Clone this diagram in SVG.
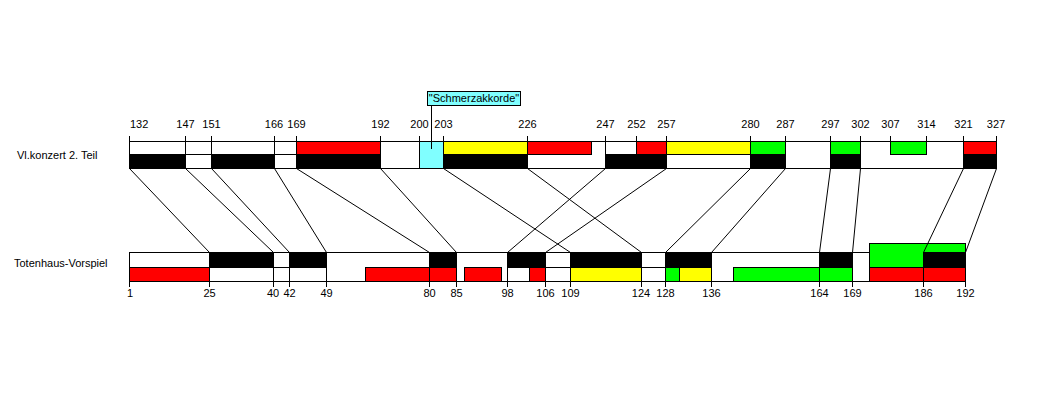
<svg xmlns="http://www.w3.org/2000/svg" width="1040" height="393" viewBox="0 0 1040 393">
<style>
text{font-family:"Liberation Sans",Arial,sans-serif;font-size:11px;fill:#000}
.n{text-anchor:middle}
.b{stroke:#000;stroke-width:1;shape-rendering:crispEdges}
.w{fill:#fff}.k{fill:#000}.r{fill:#ff0000}.y{fill:#ffff00}.g{fill:#00ff00}.c{fill:#80ffff}
line{stroke:#000;stroke-width:1;shape-rendering:crispEdges}
.con line{shape-rendering:auto}
</style>
<rect width="1040" height="393" fill="#fff"/>
<g id="vlkonzert">
<text x="17" y="159">Vl.konzert 2. Teil</text>
<line x1="129" y1="141.5" x2="996.5" y2="141.5"/>
<line x1="129" y1="168.5" x2="996.5" y2="168.5"/>
<g class="b">
<rect class="w" x="129.5" y="141.5" width="167" height="13"/>
<rect class="r" x="296.5" y="141.5" width="84" height="13"/>
<rect class="y" x="443.5" y="141.5" width="84" height="13"/>
<rect class="r" x="527.5" y="141.5" width="64" height="13"/>
<rect class="w" x="605.5" y="141.5" width="31" height="13"/>
<rect class="r" x="636.5" y="141.5" width="30" height="13"/>
<rect class="y" x="666.5" y="141.5" width="84" height="13"/>
<rect class="g" x="750.5" y="141.5" width="35" height="13"/>
<rect class="g" x="830.5" y="141.5" width="30" height="13"/>
<rect class="g" x="890.5" y="141.5" width="36" height="13"/>
<rect class="r" x="963.5" y="141.5" width="33" height="13"/>
<rect class="k" x="129.5" y="154.5" width="56" height="14"/>
<rect class="w" x="185.5" y="154.5" width="26" height="14"/>
<rect class="k" x="211.5" y="154.5" width="63" height="14"/>
<rect class="w" x="274.5" y="154.5" width="22" height="14"/>
<rect class="k" x="296.5" y="154.5" width="84" height="14"/>
<rect class="k" x="443.5" y="154.5" width="84" height="14"/>
<rect class="k" x="605.5" y="154.5" width="61" height="14"/>
<rect class="w" x="666.5" y="154.5" width="84" height="14"/>
<rect class="k" x="750.5" y="154.5" width="35" height="14"/>
<rect class="k" x="830.5" y="154.5" width="30" height="14"/>
<rect class="k" x="963.5" y="154.5" width="33" height="14"/>
<rect class="c" x="419.5" y="141.5" width="24" height="27"/>
</g>
<g>
<line x1="129.5" y1="136" x2="129.5" y2="169"/>
<line x1="185.5" y1="136" x2="185.5" y2="169"/>
<line x1="211.5" y1="136" x2="211.5" y2="169"/>
<line x1="274.5" y1="136" x2="274.5" y2="169"/>
<line x1="296.5" y1="136" x2="296.5" y2="169"/>
<line x1="380.5" y1="136" x2="380.5" y2="169"/>
<line x1="419.5" y1="136" x2="419.5" y2="169"/>
<line x1="443.5" y1="136" x2="443.5" y2="169"/>
<line x1="527.5" y1="136" x2="527.5" y2="169"/>
<line x1="605.5" y1="136" x2="605.5" y2="169"/>
<line x1="636.5" y1="136" x2="636.5" y2="155"/>
<line x1="666.5" y1="136" x2="666.5" y2="169"/>
<line x1="750.5" y1="136" x2="750.5" y2="169"/>
<line x1="785.5" y1="136" x2="785.5" y2="169"/>
<line x1="830.5" y1="136" x2="830.5" y2="169"/>
<line x1="860.5" y1="136" x2="860.5" y2="169"/>
<line x1="890.5" y1="136" x2="890.5" y2="155"/>
<line x1="926.5" y1="136" x2="926.5" y2="155"/>
<line x1="963.5" y1="136" x2="963.5" y2="169"/>
<line x1="996.5" y1="136" x2="996.5" y2="169"/>
</g>
<text x="130" y="128">132</text>
<text class="n" x="185.5" y="128">147</text>
<text class="n" x="211.5" y="128">151</text>
<text class="n" x="274" y="128">166</text>
<text class="n" x="296.5" y="128">169</text>
<text class="n" x="380.5" y="128">192</text>
<text class="n" x="419.5" y="128">200</text>
<text class="n" x="443.5" y="128">203</text>
<text class="n" x="527.5" y="128">226</text>
<text class="n" x="605.5" y="128">247</text>
<text class="n" x="636.5" y="128">252</text>
<text class="n" x="666.5" y="128">257</text>
<text class="n" x="750.5" y="128">280</text>
<text class="n" x="785.5" y="128">287</text>
<text class="n" x="830.5" y="128">297</text>
<text class="n" x="860.5" y="128">302</text>
<text class="n" x="890.5" y="128">307</text>
<text class="n" x="926.5" y="128">314</text>
<text class="n" x="963.5" y="128">321</text>
<text class="n" x="996" y="128">327</text>
</g>
<g id="schmerzakkorde">
<rect class="b c" x="427.5" y="91.5" width="93" height="14"/>
<text class="n" x="474" y="102">"Schmerzakkorde"</text>
<line x1="431.5" y1="106" x2="431.5" y2="149"/>
</g>
<g id="totenhaus">
<text x="14" y="267">Totenhaus-Vorspiel</text>
<line x1="129" y1="252.5" x2="869.5" y2="252.5"/>
<line x1="129" y1="281.5" x2="965.5" y2="281.5"/>
<g class="b">
<rect class="k" x="209.5" y="252.5" width="64" height="15"/>
<rect class="w" x="273.5" y="252.5" width="16" height="15"/>
<rect class="k" x="289.5" y="252.5" width="37" height="15"/>
<rect class="k" x="429.5" y="252.5" width="27" height="15"/>
<rect class="k" x="507.5" y="252.5" width="38" height="15"/>
<rect class="w" x="545.5" y="252.5" width="25" height="15"/>
<rect class="k" x="570.5" y="252.5" width="71" height="15"/>
<rect class="w" x="641.5" y="252.5" width="24" height="15"/>
<rect class="k" x="665.5" y="252.5" width="46" height="15"/>
<rect class="k" x="819.5" y="252.5" width="33" height="15"/>
<rect class="g" x="869.5" y="243.5" width="96" height="24"/>
<rect class="k" x="923.5" y="252.5" width="42" height="15"/>
<rect class="r" x="129.5" y="267.5" width="80" height="14"/>
<rect class="w" x="209.5" y="267.5" width="117" height="14"/>
<rect class="r" x="365.5" y="267.5" width="64" height="14"/>
<rect class="r" x="429.5" y="267.5" width="27" height="14"/>
<rect class="r" x="464.5" y="267.5" width="37" height="14"/>
<rect class="w" x="507.5" y="267.5" width="22" height="14"/>
<rect class="r" x="529.5" y="267.5" width="16" height="14"/>
<rect class="w" x="545.5" y="267.5" width="25" height="14"/>
<rect class="y" x="570.5" y="267.5" width="71" height="14"/>
<rect class="w" x="641.5" y="267.5" width="24" height="14"/>
<rect class="g" x="665.5" y="267.5" width="14" height="14"/>
<rect class="y" x="679.5" y="267.5" width="32" height="14"/>
<rect class="g" x="733.5" y="267.5" width="119" height="14"/>
<rect class="r" x="869.5" y="267.5" width="96" height="14"/>
</g>
<g>
<line x1="129.5" y1="252" x2="129.5" y2="287"/>
<line x1="209.5" y1="252" x2="209.5" y2="287"/>
<line x1="273.5" y1="252" x2="273.5" y2="287"/>
<line x1="289.5" y1="252" x2="289.5" y2="287"/>
<line x1="326.5" y1="252" x2="326.5" y2="287"/>
<line x1="429.5" y1="252" x2="429.5" y2="287"/>
<line x1="456.5" y1="252" x2="456.5" y2="287"/>
<line x1="507.5" y1="252" x2="507.5" y2="287"/>
<line x1="545.5" y1="252" x2="545.5" y2="287"/>
<line x1="570.5" y1="252" x2="570.5" y2="287"/>
<line x1="641.5" y1="252" x2="641.5" y2="287"/>
<line x1="665.5" y1="252" x2="665.5" y2="287"/>
<line x1="711.5" y1="252" x2="711.5" y2="287"/>
<line x1="819.5" y1="252" x2="819.5" y2="287"/>
<line x1="852.5" y1="252" x2="852.5" y2="287"/>
<line x1="923.5" y1="252" x2="923.5" y2="287"/>
<line x1="965.5" y1="244" x2="965.5" y2="287"/>
</g>
<text x="127" y="297">1</text>
<text class="n" x="209.5" y="297">25</text>
<text class="n" x="273" y="297">40</text>
<text class="n" x="289.5" y="297">42</text>
<text class="n" x="326.5" y="297">49</text>
<text class="n" x="429.5" y="297">80</text>
<text class="n" x="456.5" y="297">85</text>
<text class="n" x="507.5" y="297">98</text>
<text class="n" x="545.5" y="297">106</text>
<text class="n" x="570.5" y="297">109</text>
<text class="n" x="641" y="297">124</text>
<text class="n" x="665.5" y="297">128</text>
<text class="n" x="711.5" y="297">136</text>
<text class="n" x="819.5" y="297">164</text>
<text class="n" x="852.5" y="297">169</text>
<text class="n" x="923.5" y="297">186</text>
<text class="n" x="965.5" y="297">192</text>
</g>
<g id="connectors" class="con">
<line x1="129.5" y1="168.5" x2="209.5" y2="252.5"/>
<line x1="185.5" y1="168.5" x2="273.5" y2="252.5"/>
<line x1="211.5" y1="168.5" x2="289.5" y2="252.5"/>
<line x1="274.5" y1="168.5" x2="326.5" y2="252.5"/>
<line x1="296.5" y1="168.5" x2="429.5" y2="252.5"/>
<line x1="380.5" y1="168.5" x2="456.5" y2="252.5"/>
<line x1="443.5" y1="168.5" x2="570.5" y2="252.5"/>
<line x1="527.5" y1="168.5" x2="641.5" y2="252.5"/>
<line x1="605.5" y1="168.5" x2="507.5" y2="252.5"/>
<line x1="666.5" y1="168.5" x2="545.5" y2="252.5"/>
<line x1="750.5" y1="168.5" x2="665.5" y2="252.5"/>
<line x1="785.5" y1="168.5" x2="711.5" y2="252.5"/>
<line x1="830.5" y1="168.5" x2="819.5" y2="252.5"/>
<line x1="860.5" y1="168.5" x2="852.5" y2="252.5"/>
<line x1="963.5" y1="168.5" x2="923.5" y2="252.5"/>
<line x1="996.5" y1="168.5" x2="965.5" y2="252.5"/>
</g>
</svg>
